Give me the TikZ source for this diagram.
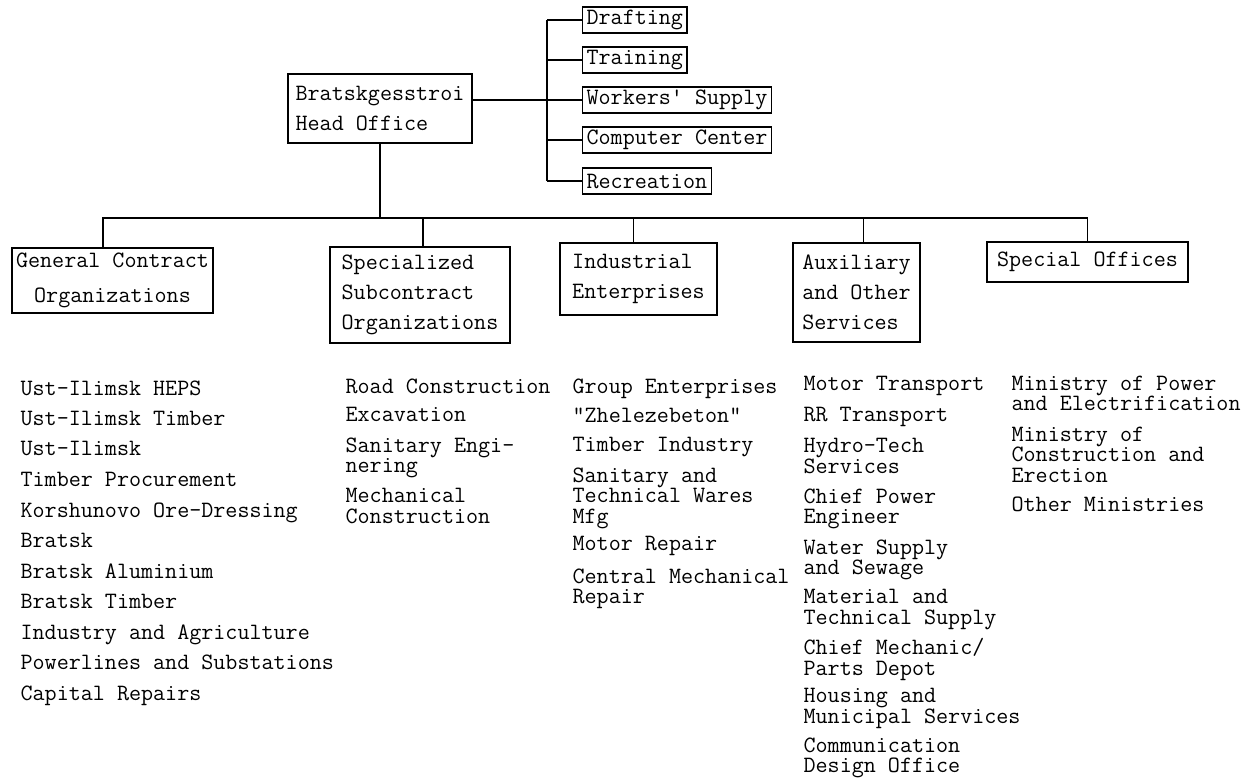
\documentclass[tikz,border=0pt]{standalone}
\usepackage{fontspec}
\usepackage{tikz}
\usetikzlibrary{calc}

\begin{document}
\begin{tikzpicture}[x=0.5pt,y=-0.5pt,line width=0.6pt,
    every node/.style={font=\ttfamily\fontsize{11.7}{15}\selectfont},
    unit/.style={draw,align=left,inner sep=0pt},
    staff/.style={draw,anchor=west,inner xsep=2pt,inner ysep=0pt,minimum height=13pt},
    entry/.style={anchor=north west,inner sep=0pt,align=left,font=\ttfamily\fontsize{11.7}{10.3}\selectfont}]
  \useasboundingbox (0,0) rectangle (1244,781);
  % head office and its staff units
  \node[unit,minimum width=92pt,minimum height=34.5pt] (head) at (380,108.5) {Bratskgesstroi\\Head Office};
  \foreach \n/\y/\lab in {draft/20/Drafting,train/60/Training,work/100/Workers' Supply,comp/140/Computer Center,recr/181/Recreation}
    \node[staff] (\n) at (582,\y) {\lab};
  \coordinate (spine) at (547,0);
  \draw (head.east |- work.west) -- (work.west);
  \draw (spine |- draft.west) -- (spine |- recr.west);
  \foreach \n in {draft,train,comp,recr}
    \draw (spine |- \n.west) -- (\n.west);
  % divisions
  \node[unit,align=center,minimum width=100.5pt,minimum height=32.5pt,font=\ttfamily\fontsize{11.7}{17.5}\selectfont] (gc) at (112.5,280.5) {General Contract\\Organizations};
  \node[unit,minimum width=90pt,minimum height=48pt] (ss) at (420,295) {Specialized\\Subcontract\\Organizations};
  \node[unit,minimum width=78.5pt,minimum height=36pt] (ind) at (638.5,279) {Industrial\\Enterprises};
  \node[unit,minimum width=63.5pt,minimum height=49.5pt] (aux) at (856.5,292.5) {Auxiliary\\and Other\\Services};
  \node[unit,minimum width=100.5pt,minimum height=20pt] (spec) at (1087.5,262) {Special Offices};
  \coordinate (busL) at (103,218);
  \draw (head.south) -- (head.south |- busL);
  \draw (busL |- gc.north) -- (busL) -- (spec.north |- busL) -- (spec.north);
  \foreach \n/\dx in {ss/3,ind/-5,aux/7}
    \draw ($(\n.north)+(\dx,0)$) -- ($(\n.north |- busL)+(\dx,0)$);
  % subordinate organizations
  \foreach \lab [count=\i from 0] in {Ust-Ilimsk HEPS,Ust-Ilimsk Timber,Ust-Ilimsk,Timber Procurement,
      Korshunovo Ore-Dressing,Bratsk,Bratsk Aluminium,Bratsk Timber,Industry and Agriculture,
      Powerlines and Substations,Capital Repairs}
    \node[entry] (gc\i) at (20,380+30.5*\i) {\lab};
  \foreach \y/\lab [count=\i] in {385/Road Construction,414/Excavation,444/{Sanitary Engi-\\nering},
      495/{Mechanical\\Construction}}
    \node[entry] (ss\i) at (345,\y-7) {\lab};
  \foreach \y/\lab [count=\i] in {385/Group Enterprises,414/"Zhelezebeton",444/Timber Industry,
      474/{Sanitary and\\Technical Wares\\Mfg},543/Motor Repair,575/{Central Mechanical\\Repair}}
    \node[entry] (ind\i) at (572,\y-7) {\lab};
  \foreach \y/\lab [count=\i] in {383/Motor Transport,414/RR Transport,445/{Hydro-Tech\\Services},
      495/{Chief Power\\Engineer},546/{Water Supply\\and Sewage},596/{Material and\\Technical Supply},
      645/{Chief Mechanic/\\Parts Depot},695/{Housing and\\Municipal Services},744/{Communication\\Design Office}}
    \node[entry] (aux\i) at (803,\y-7) {\lab};
  \foreach \y/\lab [count=\i] in {382/{Ministry of Power\\and Electrification},
      433/{Ministry of\\Construction and\\Erection},503/Other Ministries}
    \node[entry] (spec\i) at (1011,\y-7) {\lab};
\end{tikzpicture}
\end{document}
